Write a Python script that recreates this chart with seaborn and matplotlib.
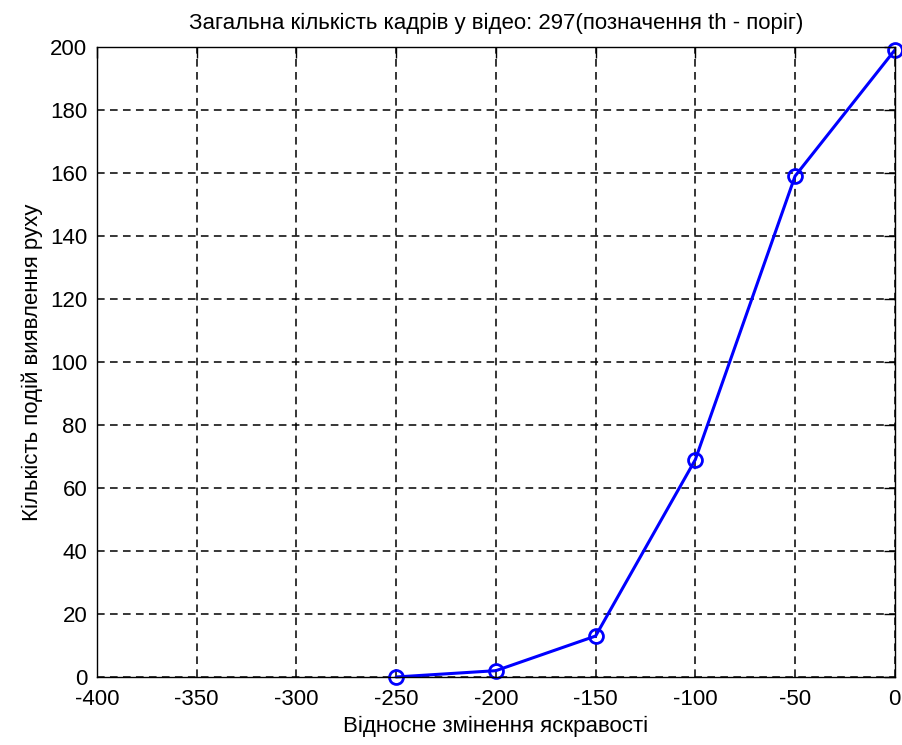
import pandas as pd
import matplotlib.pyplot as plt
import seaborn as sns

# values
brightness_change = [-250, -200, -150, -100, -50, 0]
motion_events = [0, 2, 13, 69, 159, 199]

df = pd.DataFrame({"x": brightness_change, "y": motion_events})

sns.set_style("white")
plt.rcParams["font.family"] = ["Liberation Sans", "DejaVu Sans"]
plt.rcParams["axes.unicode_minus"] = False
plt.rcParams["text.color"] = "black"
plt.rcParams["axes.labelcolor"] = "black"

fig = plt.figure(figsize=(9.02, 7.45), dpi=100)
ax = fig.add_axes([0.1075, 0.0913, 0.8845, 0.8457])

sns.lineplot(data=df, x="x", y="y", ax=ax, color="#0000ff", linewidth=2.2,
             marker="o", markersize=10, markerfacecolor="none",
             markeredgecolor="#0000ff", markeredgewidth=2, clip_on=False)

ax.set_xlim(-400, 0)
ax.set_ylim(0, 200)
ax.set_xticks(range(-400, 1, 50))
ax.set_yticks(range(0, 201, 20))
ax.grid(True, color="black", linestyle=(0, (5, 3.5)), linewidth=1.1)
ax.set_axisbelow(True)
for s in ax.spines.values():
    s.set_color("black")
    s.set_linewidth(1)
ax.tick_params(direction="in", length=8, width=1, top=True, right=True,
               labelsize=16, colors="black")
ax.tick_params(axis="x", pad=9)
ax.tick_params(axis="y", pad=7)

ax.set_xlabel("Відносне змінення яскравості", fontsize=16, labelpad=4)
ax.set_ylabel("Кількість подій виявлення руху", fontsize=16, labelpad=5)
ax.set_title("Загальна кількість кадрів у відео: 297(позначення th - поріг)",
             fontsize=16, pad=13)

plt.savefig("out.png", dpi=100)
